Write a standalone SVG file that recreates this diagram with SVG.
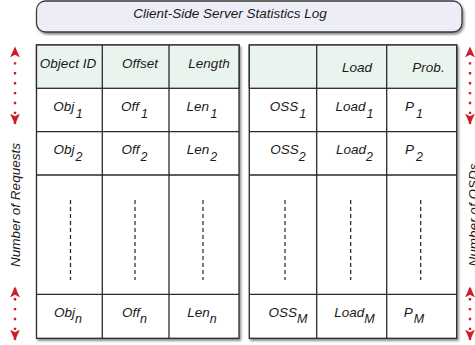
<svg xmlns="http://www.w3.org/2000/svg" width="475" height="345" viewBox="0 0 475 345">
  <style>
    text { font-family: "Liberation Sans", Arial, sans-serif; font-style: italic; font-size: 13.5px; fill: #1a1a1a; }
    .t { text-anchor: middle; }
    .cell { fill: #ffffff; stroke: #2b2b2b; stroke-width: 1.3; }
    .head { fill: #e9f4ef; stroke: #2b2b2b; stroke-width: 1.3; }
    .grid { stroke: #2b2b2b; stroke-width: 1.3; fill: none; }
    .dash { stroke: #222; stroke-width: 1.2; stroke-dasharray: 4 3; fill: none; }
    .arr { stroke: #cc1f2a; stroke-width: 2.4; stroke-dasharray: 2.4 7.5; fill: none; marker-start: url(#ah); marker-end: url(#ah); }
    .sub { font-size: 12.5px; }
  </style>
  <defs>
    <filter id="sh" x="-5%" y="-5%" width="115%" height="115%">
      <feDropShadow dx="1.5" dy="2" stdDeviation="1.3" flood-color="#000" flood-opacity="0.45"/>
    </filter>
    <marker id="ah" viewBox="0 0 10 10" refX="9.5" refY="5" markerWidth="11" markerHeight="11" orient="auto-start-reverse" markerUnits="userSpaceOnUse">
      <path d="M0,0.5 L10,5 L0,9.5 L2.5,5 Z" fill="#cc1f2a"/>
    </marker>
  </defs>

  <g id="title">
    <rect x="36.5" y="1" width="425.5" height="31" rx="9" ry="9" fill="#ededf7" stroke="#3a3a3a" stroke-width="1.3" filter="url(#sh)"/>
    <text class="t" x="230" y="18">Client-Side Server  Statistics Log</text>
  </g>

  <g id="request-table">
    <rect x="36.5" y="45" width="202.5" height="293.3" class="cell" filter="url(#sh)"/>
    <rect x="36.5" y="45" width="202.5" height="43.3" class="head"/>
    <path class="grid" d="M102.3,45 V338.3 M169,45 V338.3 M36.5,131.7 H239 M36.5,175 H239 M36.5,294.3 H239"/>
    <text class="t" x="68" y="68">Object ID</text>
    <text class="t" x="140" y="68">Offset</text>
    <text class="t" x="209" y="68">Length</text>
    <text class="t" x="68" y="111">Obj<tspan class="sub" dx="1.5" dy="6.5">1</tspan></text>
    <text class="t" x="134.5" y="111">Off<tspan class="sub" dx="2" dy="6.5">1</tspan></text>
    <text class="t" x="202" y="111">Len<tspan class="sub" dx="1.5" dy="6.5">1</tspan></text>
    <text class="t" x="68" y="154">Obj<tspan class="sub" dx="1" dy="6.5">2</tspan></text>
    <text class="t" x="134.5" y="154">Off<tspan class="sub" dx="1" dy="6.5">2</tspan></text>
    <text class="t" x="202" y="154">Len<tspan class="sub" dx="1" dy="6.5">2</tspan></text>
    <path class="dash" d="M70.5,200 V280 M135,200 V280 M203,200 V280"/>
    <text class="t" x="68" y="317">Obj<tspan class="sub" dy="6">n</tspan></text>
    <text class="t" x="134.5" y="317">Off<tspan class="sub" dy="6">n</tspan></text>
    <text class="t" x="202" y="317">Len<tspan class="sub" dy="6">n</tspan></text>
  </g>

  <g id="oss-table">
    <rect x="249.3" y="45" width="207.4" height="293.3" class="cell" filter="url(#sh)"/>
    <rect x="249.3" y="45" width="207.4" height="43.3" class="head"/>
    <path class="grid" d="M316.7,45 V338.3 M386.7,45 V338.3 M249.3,131.7 H456.7 M249.3,175 H456.7 M249.3,294.3 H456.7"/>
    <text class="t" x="357" y="72">Load</text>
    <text class="t" x="428.5" y="72">Prob.</text>
    <text class="t" x="288" y="111">OSS<tspan class="sub" dx="1" dy="6.5">1</tspan></text>
    <text class="t" x="354.5" y="111">Load<tspan class="sub" dx="1" dy="6.5">1</tspan></text>
    <text class="t" x="414" y="111">P<tspan class="sub" dx="2" dy="6.5">1</tspan></text>
    <text class="t" x="288" y="154">OSS<tspan class="sub" dy="6.5">2</tspan></text>
    <text class="t" x="354.5" y="154">Load<tspan class="sub" dy="6.5">2</tspan></text>
    <text class="t" x="414" y="154">P<tspan class="sub" dx="2" dy="6.5">2</tspan></text>
    <path class="dash" d="M285,200 V280 M350.7,200 V280 M420.7,200 V280"/>
    <text class="t" x="288" y="317">OSS<tspan class="sub" dy="6">M</tspan></text>
    <text class="t" x="354.5" y="317">Load<tspan class="sub" dy="6">M</tspan></text>
    <text class="t" x="414" y="317">P<tspan class="sub" dx="1" dy="6">M</tspan></text>
  </g>

  <g id="labels">
    <text class="t" transform="translate(20,205) rotate(-90)">Number of Requests</text>
    <text class="t" transform="translate(478,215) rotate(-90)">Number of OSDs</text>
  </g>

  <g id="connectors">
    <line class="arr" x1="15" y1="124" x2="15" y2="47"/>
    <line class="arr" x1="15" y1="340" x2="15" y2="287"/>
    <line class="arr" x1="470" y1="124" x2="470" y2="47"/>
    <line class="arr" x1="470" y1="340" x2="470" y2="287"/>
  </g>
</svg>
